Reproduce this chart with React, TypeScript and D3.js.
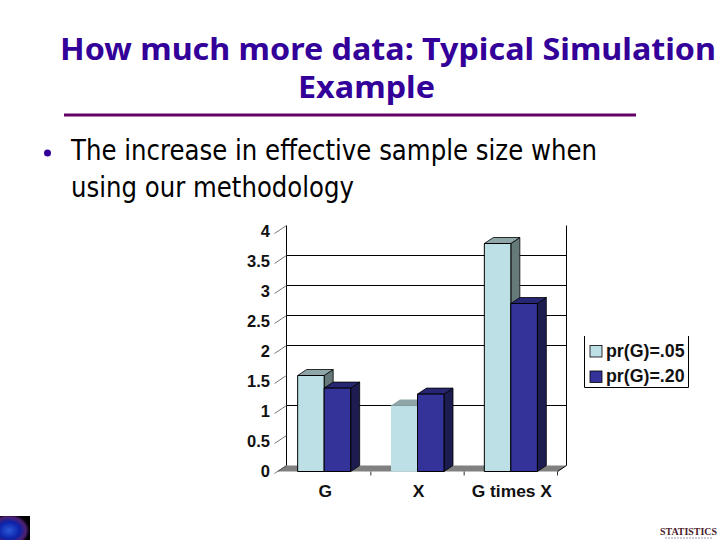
import React from "react";
import * as d3 from "d3";

const categories = ["G", "X", "G times X"];
const seriesNames = ["pr(G)=.05", "pr(G)=.20"];
const seriesA = [1.6, 1.1, 3.8];
const seriesB = [1.39, 1.29, 2.8];
const yTicks = [0, 0.5, 1, 1.5, 2, 2.5, 3, 3.5, 4];
const gridValues = [1, 2, 2.5, 3, 3.5];
const titleLines = ["How much more data: Typical Simulation", "Example"];
const bodyLines = ["The increase in effective sample size when", "using our methodology"];

const frontLeft = 277.5, frontRight = 557.5, frontZero = 471.5, frontTop = 231.5;
const dx = 9, dy = -6;
const barW = 26.5;
const FILL = [
  { front: "#bce0e6", top: "#8fa6a8", side: "#66797b" },
  { front: "#333399", top: "#262673", side: "#1c1c50" },
];
const AF = "'Liberation Sans', Arial, sans-serif";
const TF = "'DejaVu Sans', Tahoma, sans-serif";
const HF = "'Noto Sans', Tahoma, sans-serif";

export default function App() {
  const x = d3.scaleBand<string>().domain(categories).range([frontLeft, frontRight]).padding(0);
  const y = d3.scaleLinear().domain([0, 4]).range([frontZero, frontTop]);
  const bw = x.bandwidth();
  const floor = `M${frontLeft},${frontZero}L${frontLeft + dx},${frontZero + dy}L${frontRight + dx},${frontZero + dy}L${frontRight},${frontZero}Z`;

  return (
    <svg width={720} height={540} style={{ position: "absolute", left: 0, top: 0, background: "#fff" }}>
      <defs>
        <radialGradient id="logo" cx="30%" cy="60%" r="72%">
          <stop offset="0%" stopColor="#2a58d8" />
          <stop offset="50%" stopColor="#0c22a8" />
          <stop offset="78%" stopColor="#502070" />
          <stop offset="92%" stopColor="#0a0418" />
          <stop offset="100%" stopColor="#000" />
        </radialGradient>
      </defs>

      {titleLines.map((t, i) => (
        <text key={t} x={i === 0 ? 60 : 298} y={60 + i * 38} fontFamily={HF} fontWeight="bold" fontSize={31}
          fill="#330099" textLength={i === 0 ? 656 : 137} lengthAdjust="spacingAndGlyphs">{t}</text>
      ))}
      <line x1={64} x2={636} y1={115} y2={115} stroke="#660066" strokeWidth={3} />
      <circle cx={47.5} cy={153} r={3.5} fill="#330099" />
      {bodyLines.map((t, i) => (
        <text key={t} x={71} y={160 + i * 37} fontFamily={TF} fontSize={28} fill="#000"
          textLength={i === 0 ? 526 : 283} lengthAdjust="spacingAndGlyphs">{t}</text>
      ))}

      {/* walls */}
      <path d={floor} fill="#808080" />
      {gridValues.map(v => (
        <line key={v} x1={frontLeft + dx} x2={frontRight + dx} y1={y(v) + dy} y2={y(v) + dy} stroke="#000" strokeWidth={1} />
      ))}
      <line x1={frontLeft + dx} x2={frontLeft + dx} y1={y(4) + dy} y2={y(0) + dy} stroke="#000" />
      <line x1={frontRight + dx} x2={frontRight + dx} y1={y(4) + dy} y2={y(0) + dy} stroke="#000" />
      <line x1={frontRight + dx} x2={frontRight} y1={y(0) + dy} y2={y(0)} stroke="#000" />

      {/* ticks and labels */}
      {yTicks.map(v => (
        <g key={v}>
          <line x1={frontLeft - 3} y1={y(v) + 2} x2={frontLeft + dx} y2={y(v) + dy} stroke="#555" strokeWidth={0.8} />
          <text x={270} y={y(v) + 5.5} textAnchor="end" fontFamily={AF} fontWeight="bold" fontSize={16.5} fill="#111">{v}</text>
        </g>
      ))}
      {categories.map(c => (
        <g key={c}>
          <line x1={x(c)! + bw} x2={x(c)! + bw} y1={frontZero} y2={frontZero + 4} stroke="#333" />
          <text x={x(c)! + bw / 2 + 1} y={497} textAnchor="middle" fontFamily={AF} fontWeight="bold" fontSize={17.4} fill="#111">{c}</text>
        </g>
      ))}

      {/* bars: back-to-front order within each category */}
      {categories.map((c, i) =>
        [seriesA[i], seriesB[i]].map((v, s) => {
          const cx = x(c)! + bw / 2;
          const x0 = s === 0 ? cx - barW : cx;
          const x1 = x0 + barW;
          const top = y(v);
          const col = FILL[s];
          const unoutlined = s === 0 && i === 1;
          const st = unoutlined ? "none" : "#000";
          return (
            <g key={c + s} strokeLinejoin="round">
              <path d={`M${x1},${top}L${x1 + dx},${top + dy}L${x1 + dx},${frontZero + dy}L${x1},${frontZero}Z`} fill={col.side} stroke={st} strokeWidth={0.8} />
              <path d={`M${x0},${top}L${x0 + dx},${top + dy}L${x1 + dx},${top + dy}L${x1},${top}Z`} fill={col.top} stroke={st} strokeWidth={0.8} />
              <rect x={x0} y={top} width={x1 - x0} height={frontZero - top} fill={col.front} stroke={st} strokeWidth={1} />
            </g>
          );
        })
      )}
      <line x1={frontLeft} x2={frontLeft + dx} y1={frontZero} y2={frontZero + dy} stroke="#555" strokeWidth={0.8} />

      {/* legend */}
      <path d="M584.5,336V387.5H688.5V336" fill="#fff" stroke="#000" strokeWidth={1} />
      {seriesNames.map((n, i) => (
        <g key={n}>
          <rect x={590} y={345.5 + i * 25.5} width={12} height={11.5} fill={FILL[i].front} stroke="#000" strokeWidth={0.8} />
          <text x={606} y={356.5 + i * 25.5} fontFamily={AF} fontWeight="bold" fontSize={17.8} fill="#111">{n}</text>
        </g>
      ))}

      {/* footer logos */}
      <rect x={0} y={516} width={30} height={24} fill="url(#logo)" />
      <text x={660} y={535} fontFamily="'Liberation Serif', serif" fontWeight="bold" fontSize={10} fill="#4a1a2a" textLength={57} lengthAdjust="spacingAndGlyphs">STATISTICS</text>
      <line x1={665} x2={712} y1={538} y2={538} stroke="#99a" strokeWidth={1.2} strokeDasharray="2 1" />
    </svg>
  );
}
